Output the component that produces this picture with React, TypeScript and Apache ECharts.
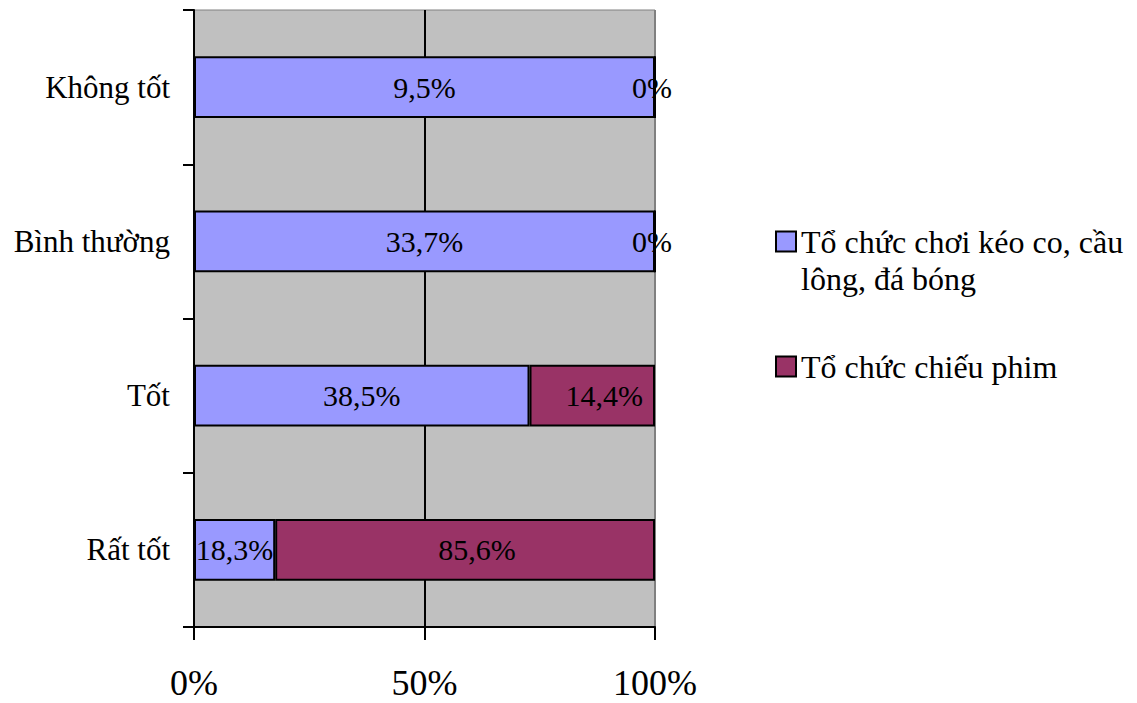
import React, { useEffect, useRef } from "react";
import * as echarts from "echarts";

// Rating levels, bottom to top
const categories = ["Rất tốt", "Tốt", "Bình thường", "Không tốt"];
const seriesNames = ["Tổ chức chơi kéo co, cầu lông, đá bóng", "Tổ chức chiếu phim"];
// Percentages per rating for each activity
const sportsValues = [18.3, 38.5, 33.7, 9.5];
const movieValues = [85.6, 14.4, 0, 0];
const xTicks = [0, 50, 100];

const colors = ["#9999FF", "#993366"];
const FONT = "'Liberation Serif', 'Times New Roman', serif";

const fmt = (v: number) => (v === 0 ? "0%" : v.toFixed(1).replace(".", ",") + "%");

export default function App() {
  const ref = useRef<HTMLDivElement>(null);

  useEffect(() => {
    if (!ref.current) return;
    const chart = echarts.init(ref.current, null, { renderer: "svg" });

    // Each row is drawn as a share of its own total (100% stacked bars)
    const totals = categories.map((_, i) => sportsValues[i] + movieValues[i]);
    const toData = (vals: number[], shiftNonZero: number) =>
      vals.map((v, i) => ({
        value: totals[i] ? (v / totals[i]) * 100 : 0,
        raw: v,
        label: { offset: [v === 0 ? -3 : shiftNonZero, 0] },
      }));

    const labelStyle = {
      show: true,
      position: "inside",
      color: "#000",
      fontFamily: FONT,
      fontSize: 30,
      formatter: (p: any) => fmt(p.data.raw),
    };

    chart.setOption({
      animation: false,
      color: colors,
      textStyle: { fontFamily: FONT },
      grid: {
        left: 194,
        right: 482,
        top: 10,
        bottom: 76,
        show: true,
        backgroundColor: "#C0C0C0",
        borderColor: "#808080",
        borderWidth: 1,
      },
      legend: {
        orient: "vertical",
        left: 770,
        top: 181,
        itemWidth: 20,
        itemHeight: 20,
        itemGap: 51,
        icon: "rect",
        textStyle: {
          fontFamily: FONT,
          fontSize: 32,
          color: "#000",
          lineHeight: 37,
        },
        formatter: (name: string) =>
          name === seriesNames[0] ? "\nTổ chức chơi kéo co, cầu\nlông, đá bóng" : name,
        data: seriesNames,
      },
      xAxis: {
        type: "value",
        min: 0,
        max: 100,
        interval: 50,
        axisLine: { show: true, lineStyle: { color: "#000", width: 2 } },
        axisTick: { show: true, length: 13, lineStyle: { color: "#000", width: 2 } },
        axisLabel: {
          formatter: (v: number) => (xTicks.includes(v) ? v + "%" : ""),
          fontFamily: FONT,
          fontSize: 36,
          lineHeight: 36,
          color: "#000",
          margin: 38,
        },
        splitLine: {
          show: true,
          lineStyle: { color: ["#000", "#000", "#808080"], width: 2 },
        },
      },
      yAxis: {
        type: "category",
        data: categories,
        axisLine: { show: true, lineStyle: { color: "#000", width: 2 } },
        axisTick: { show: true, length: 11, lineStyle: { color: "#000", width: 2 } },
        axisLabel: {
          fontFamily: FONT,
          fontSize: 31,
          color: "#000",
          margin: 24,
        },
      },
      series: [
        {
          name: seriesNames[0],
          type: "bar",
          stack: "total",
          barWidth: "40%",
          itemStyle: { color: colors[0], borderColor: "#000", borderWidth: 2 },
          label: labelStyle,
          data: toData(sportsValues, 0),
        },
        {
          name: seriesNames[1],
          type: "bar",
          stack: "total",
          barWidth: "40%",
          itemStyle: { color: colors[1], borderColor: "#000", borderWidth: 2 },
          label: labelStyle,
          data: toData(movieValues, 12),
        },
      ],
    });

    return () => chart.dispose();
  }, []);

  return (
    <div
      ref={ref}
      style={{ position: "absolute", left: 0, top: 0, width: 1137, height: 703, background: "#fff" }}
    />
  );
}
